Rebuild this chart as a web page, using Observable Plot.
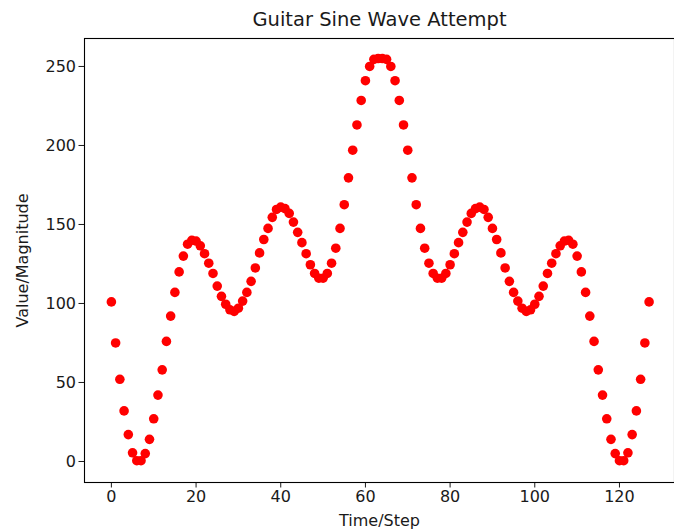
<!DOCTYPE html>
<html>
<head>
<meta charset="utf-8">
<script src="https://cdn.jsdelivr.net/npm/d3@7"></script>
<script src="https://cdn.jsdelivr.net/npm/@observablehq/plot@0.6"></script>
<style>
  html, body { margin: 0; padding: 0; background: #fff; }
</style>
</head>
<body>
<div id="chart"></div>
<script>
const title = "Guitar Sine Wave Attempt";
const xLabel = "Time/Step";
const yLabel = "Value/Magnitude";
const xTicks = [0, 20, 40, 60, 80, 100, 120];
const yTicks = [0, 50, 100, 150, 200, 250];
const values = [
  101, 75, 52, 32, 17, 5.5, 0.5, 0.5, 5, 14, 27, 42, 58, 76, 92, 107,
  120, 130, 137.5, 140, 139.5, 136.5, 131.5, 125.5, 119, 111, 104.5, 99.5, 96, 95, 97, 101.5,
  107, 114, 122.5, 132, 140.5, 147.5, 154.5, 159.5, 161, 160, 157, 151.5, 145, 138.5, 131.5, 124.5,
  119, 116, 116, 119, 125.5, 135, 147.5, 162.5, 179.5, 197, 213, 228.5, 241, 250, 254.5, 255,
  255, 254.5, 250, 241, 228.5, 213, 197, 179.5, 162.5, 147.5, 135, 125.5, 119, 116, 116, 119,
  124.5, 131.5, 138.5, 145, 151.5, 157, 160, 161, 159.5, 154.5, 147.5, 140.5, 132, 122.5, 114, 107,
  101.5, 97, 95, 96, 99.5, 104.5, 111, 119, 125.5, 131.5, 136.5, 139.5, 140, 137.5, 130, 120,
  107, 92, 76, 58, 42, 27, 14, 5, 0.5, 0.5, 5.5, 17, 32, 52, 75, 101
];
const data = values.map((v, i) => ({step: i, value: v}));

const chart = Plot.plot({
  width: 674,
  height: 529,
  marginLeft: 84,
  marginRight: 0,
  marginTop: 38,
  marginBottom: 47,
  style: "font-family: 'DejaVu Sans', sans-serif; font-size: 16px; color: #1a1a1a; background: #fff;",
  x: {domain: [-6.35, 133], ticks: xTicks, tickSize: 5.5, tickPadding: 3, label: null},
  y: {domain: [-13.3, 267.7], ticks: yTicks, tickSize: 5.5, tickPadding: 3, label: null},
  marks: [
    Plot.frame({stroke: "#000", strokeWidth: 1.1}),
    Plot.dot(data, {x: "step", y: "value", r: 4.8, fill: "#ff0000", stroke: "none"}),
    Plot.text([title], {text: d => d, frameAnchor: "top", dy: -19, fontSize: 19.5, textAnchor: "middle", lineAnchor: "middle"}),
    Plot.text([xLabel], {text: d => d, frameAnchor: "bottom", dy: 38, textAnchor: "middle", lineAnchor: "middle"}),
    Plot.text([yLabel], {text: d => d, frameAnchor: "left", dx: -62, rotate: -90, textAnchor: "middle", lineAnchor: "middle"})
  ]
});
document.getElementById("chart").appendChild(chart);
</script>
</body>
</html>
